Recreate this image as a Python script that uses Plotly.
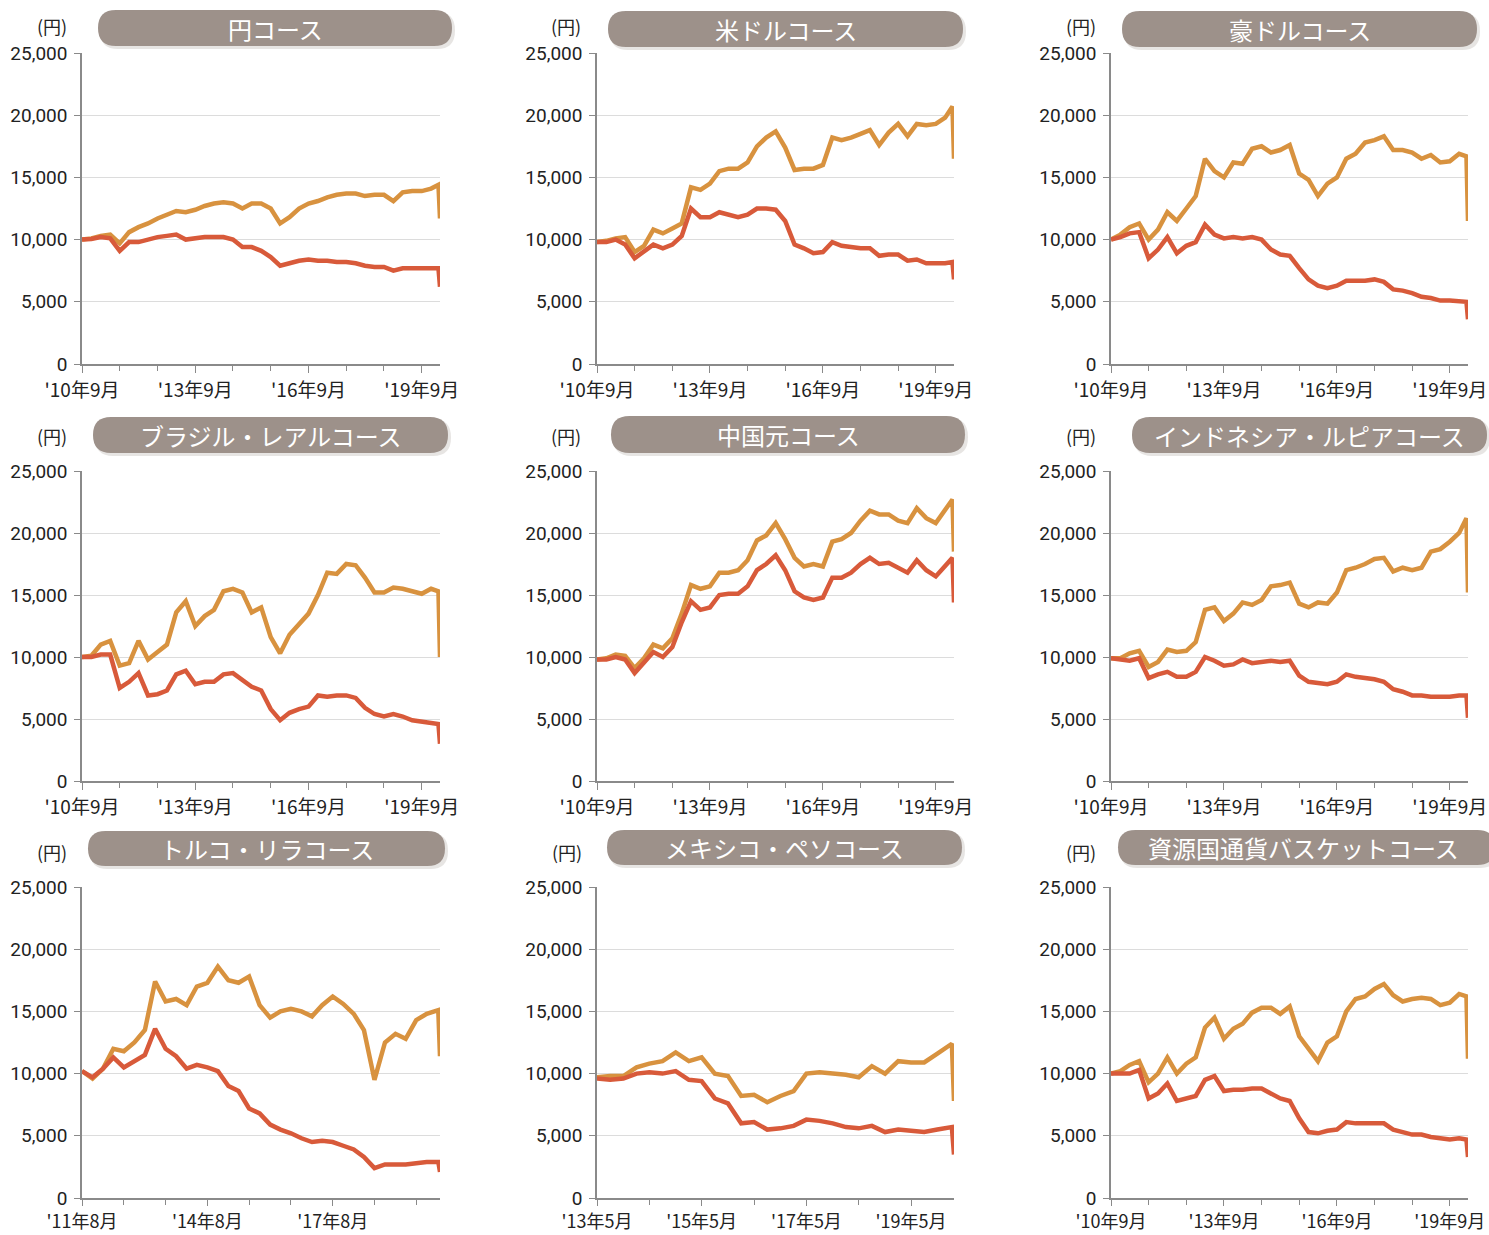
import pandas as pd
import plotly.graph_objects as go

W, H = 1489, 1235

# ---------------- data ----------------
std_dates = [d.strftime("%Y-%m-%d") for d in pd.date_range("2010-09-01", periods=38, freq="3MS")] + ["2020-02-10", "2020-02-25"]
try_dates = [d.strftime("%Y-%m-%d") for d in pd.date_range("2011-08-01", periods=34, freq="3MS")] + ["2020-02-10", "2020-02-25"]
mxn_dates = [d.strftime("%Y-%m-%d") for d in pd.date_range("2013-05-01", periods=27, freq="3MS")] + ["2020-02-10", "2020-02-25"]

titles = ["円コース", "米ドルコース", "豪ドルコース",
          "ブラジル・レアルコース", "中国元コース", "インドネシア・ルピアコース",
          "トルコ・リラコース", "メキシコ・ペソコース", "資源国通貨バスケットコース"]

std_ticks = ["2010-09-01", "2013-09-01", "2016-09-01", "2019-09-01"]
std_ticktext = ["'10年9月", "'13年9月", "'16年9月", "'19年9月"]
try_ticks = ["2011-08-01", "2014-08-01", "2017-08-01"]
try_ticktext = ["'11年8月", "'14年8月", "'17年8月"]
mxn_ticks = ["2013-05-01", "2015-05-01", "2017-05-01", "2019-05-01"]
mxn_ticktext = ["'13年5月", "'15年5月", "'17年5月", "'19年5月"]

jpy_reinv = [10000, 10100, 10300, 10400, 9700, 10600, 11000, 11300, 11700, 12000,
             12300, 12200, 12400, 12700, 12900, 13000, 12900, 12500, 12900, 12900,
             12500, 11300, 11800, 12500, 12900, 13100, 13400, 13600, 13700, 13700,
             13500, 13600, 13600, 13100, 13800, 13900, 13900, 14100, 14400, 11700]
jpy_nav = [10000, 10050, 10200, 10100, 9100, 9800, 9800, 10000, 10200, 10300,
           10400, 10000, 10100, 10200, 10200, 10200, 10000, 9400, 9400, 9100,
           8600, 7900, 8100, 8300, 8400, 8300, 8300, 8200, 8200, 8100,
           7900, 7800, 7800, 7500, 7700, 7700, 7700, 7700, 7700, 6200]

usd_reinv = [9800, 9900, 10100, 10200, 9000, 9500, 10800, 10500, 10900, 11300,
             14200, 14000, 14500, 15500, 15700, 15700, 16200, 17500, 18200, 18700,
             17400, 15600, 15700, 15700, 16000, 18200, 18000, 18200, 18500, 18800,
             17600, 18600, 19300, 18300, 19300, 19200, 19300, 19800, 20700, 16500]
usd_nav = [9800, 9800, 10000, 9600, 8500, 9000, 9600, 9300, 9600, 10300,
           12500, 11800, 11800, 12200, 12000, 11800, 12000, 12500, 12500, 12400,
           11500, 9600, 9300, 8900, 9000, 9800, 9500, 9400, 9300, 9300,
           8700, 8800, 8800, 8300, 8400, 8100, 8100, 8100, 8200, 6800]

aud_reinv = [10000, 10400, 11000, 11300, 10000, 10800, 12200, 11500, 12500, 13500,
             16500, 15500, 15000, 16200, 16100, 17300, 17500, 17000, 17200, 17600,
             15300, 14800, 13500, 14500, 15000, 16500, 16900, 17800, 18000, 18300,
             17200, 17200, 17000, 16500, 16800, 16200, 16300, 16900, 16700, 11500]
aud_nav = [10000, 10200, 10500, 10600, 8500, 9200, 10200, 8900, 9500, 9800,
           11200, 10400, 10100, 10200, 10100, 10200, 10000, 9200, 8800, 8700,
           7700, 6800, 6300, 6100, 6300, 6700, 6700, 6700, 6800, 6600,
           6000, 5900, 5700, 5400, 5300, 5100, 5100, 5000, 5000, 3600]

brl_reinv = [10000, 10100, 11000, 11300, 9300, 9500, 11300, 9800, 10400, 11000,
             13600, 14500, 12500, 13300, 13800, 15300, 15500, 15200, 13600, 14000,
             11600, 10300, 11800, 12700, 13500, 15000, 16800, 16700, 17500, 17400,
             16400, 15200, 15200, 15600, 15500, 15300, 15100, 15500, 15300, 10000]
brl_nav = [10000, 10000, 10200, 10200, 7500, 8000, 8700, 6900, 7000, 7300,
           8600, 8900, 7800, 8000, 8000, 8600, 8700, 8100, 7600, 7300,
           5800, 4900, 5500, 5800, 6000, 6900, 6800, 6900, 6900, 6700,
           5900, 5400, 5200, 5400, 5200, 4900, 4800, 4700, 4600, 3000]

cny_reinv = [9800, 9900, 10200, 10100, 9100, 9900, 11000, 10700, 11500, 13500,
             15800, 15500, 15700, 16800, 16800, 17000, 17800, 19400, 19800, 20800,
             19500, 18000, 17300, 17500, 17300, 19300, 19500, 20000, 21000, 21800,
             21500, 21500, 21000, 20800, 22000, 21200, 20800, 21800, 22700, 18500]
cny_nav = [9800, 9800, 10000, 9800, 8700, 9500, 10400, 10000, 10800, 12800,
           14500, 13800, 14000, 15000, 15100, 15100, 15700, 17000, 17500, 18200,
           17000, 15300, 14800, 14600, 14800, 16400, 16400, 16800, 17500, 18000,
           17500, 17600, 17200, 16800, 17800, 17000, 16500, 17300, 18000, 14400]

idr_reinv = [9900, 9900, 10300, 10500, 9200, 9600, 10600, 10400, 10500, 11200,
             13800, 14000, 12900, 13500, 14400, 14200, 14600, 15700, 15800, 16000,
             14300, 14000, 14400, 14300, 15200, 17000, 17200, 17500, 17900, 18000,
             16900, 17200, 17000, 17200, 18500, 18700, 19300, 20000, 21200, 15200]
idr_nav = [9900, 9800, 9700, 9900, 8300, 8600, 8800, 8400, 8400, 8800,
           10000, 9700, 9300, 9400, 9800, 9500, 9600, 9700, 9600, 9700,
           8500, 8000, 7900, 7800, 8000, 8600, 8400, 8300, 8200, 8000,
           7400, 7200, 6900, 6900, 6800, 6800, 6800, 6900, 6900, 5100]

try_reinv = [10200, 9600, 10400, 12000, 11800, 12500, 13500, 17400, 15800, 16000,
             15500, 17000, 17300, 18600, 17500, 17300, 17800, 15500, 14500, 15000,
             15200, 15000, 14600, 15500, 16200, 15600, 14800, 13500, 9500, 12500,
             13200, 12800, 14300, 14800, 15100, 11400]
try_nav = [10200, 9700, 10400, 11300, 10500, 11000, 11500, 13600, 12000, 11400,
           10400, 10700, 10500, 10200, 9000, 8600, 7200, 6800, 5900, 5500,
           5200, 4800, 4500, 4600, 4500, 4200, 3900, 3300, 2400, 2700,
           2700, 2700, 2800, 2900, 2900, 2100]

mxn_reinv = [9700, 9800, 9800, 10500, 10800, 11000, 11700, 11000, 11300, 10000,
             9800, 8200, 8300, 7700, 8200, 8600, 10000, 10100, 10000, 9900,
             9700, 10600, 10000, 11000, 10900, 10900, 11600, 12400, 7800]
mxn_nav = [9600, 9500, 9600, 10000, 10100, 10000, 10200, 9500, 9400, 8000,
           7600, 6000, 6100, 5500, 5600, 5800, 6300, 6200, 6000, 5700,
           5600, 5800, 5300, 5500, 5400, 5300, 5500, 5700, 3500]

bsk_reinv = [10000, 10200, 10700, 11000, 9300, 10000, 11300, 10000, 10800, 11300,
             13700, 14500, 12800, 13600, 14000, 14900, 15300, 15300, 14800, 15400,
             13000, 12000, 11000, 12500, 13000, 15000, 16000, 16200, 16800, 17200,
             16300, 15800, 16000, 16100, 16000, 15500, 15700, 16400, 16200, 11200]
bsk_nav = [10000, 10000, 10000, 10300, 8000, 8400, 9200, 7800, 8000, 8200,
           9500, 9800, 8600, 8700, 8700, 8800, 8800, 8400, 8000, 7800,
           6400, 5300, 5200, 5400, 5500, 6100, 6000, 6000, 6000, 6000,
           5500, 5300, 5100, 5100, 4900, 4800, 4700, 4800, 4700, 3300]

y_ticks = [0, 5000, 10000, 15000, 20000, 25000]

# ---------------- layout / styling ----------------
ORANGE = "#d8923f"
RED = "#d85a3a"
PILL = "#9d918a"
FONT = "Noto Sans CJK JP"
NUMFONT = "Roboto"

panels = [
    (std_dates, jpy_reinv, jpy_nav, std_ticks, std_ticktext, "2010-09-01", (82, 440, 53, 364), (98, 452, 10, 46), (52, 26)),
    (std_dates, usd_reinv, usd_nav, std_ticks, std_ticktext, "2010-09-01", (597, 954, 53, 364), (608, 963, 11, 47), (566, 26)),
    (std_dates, aud_reinv, aud_nav, std_ticks, std_ticktext, "2010-09-01", (1111, 1468, 53, 364), (1122, 1477, 11, 47), (1081, 26)),
    (std_dates, brl_reinv, brl_nav, std_ticks, std_ticktext, "2010-09-01", (82, 440, 471, 781), (93, 448, 417, 453), (52, 436)),
    (std_dates, cny_reinv, cny_nav, std_ticks, std_ticktext, "2010-09-01", (597, 954, 471, 781), (611, 965, 416, 453), (566, 436)),
    (std_dates, idr_reinv, idr_nav, std_ticks, std_ticktext, "2010-09-01", (1111, 1468, 471, 781), (1132, 1487, 417, 453), (1081, 436)),
    (try_dates, try_reinv, try_nav, try_ticks, try_ticktext, "2011-08-01", (82, 440, 887, 1198), (88, 445, 831, 866), (52, 852)),
    (mxn_dates, mxn_reinv, mxn_nav, mxn_ticks, mxn_ticktext, "2013-05-01", (597, 954, 887, 1198), (607, 962, 830, 865), (567, 852)),
    (std_dates, bsk_reinv, bsk_nav, std_ticks, std_ticktext, "2010-09-01", (1111, 1468, 887, 1198), (1118, 1495, 830, 865), (1081, 852)),
]


def fx(px):
    return px / W


def fy(py):
    return 1 - py / H


def pill_path(x0, x1, y0, y1, r):
    pts = [
        ("M", (x0 + r, y0)), ("L", (x1 - r, y0)), ("Q", (x1, y0), (x1, y0 + r)),
        ("L", (x1, y1 - r)), ("Q", (x1, y1), (x1 - r, y1)), ("L", (x0 + r, y1)),
        ("Q", (x0, y1), (x0, y1 - r)), ("L", (x0, y0 + r)), ("Q", (x0, y0), (x0 + r, y0)),
    ]
    s = ""
    for p in pts:
        cmd = p[0]
        coords = " ".join(f"{fx(a):.5f},{fy(b):.5f}" for a, b in p[1:])
        s += f"{cmd} {coords} "
    return s + "Z"


fig = go.Figure()
shapes = []
annotations = []

for i, (dates, reinv, nav, tv, tt, start, box, pill, yen) in enumerate(panels):
    n = i + 1
    xa = "x" if n == 1 else f"x{n}"
    ya = "y" if n == 1 else f"y{n}"
    fig.add_trace(go.Scatter(x=dates, y=reinv, mode="lines", line=dict(color=ORANGE, width=4.5),
                             xaxis=xa, yaxis=ya, showlegend=False, hoverinfo="skip"))
    fig.add_trace(go.Scatter(x=dates, y=nav, mode="lines", line=dict(color=RED, width=4.5),
                             xaxis=xa, yaxis=ya, showlegend=False, hoverinfo="skip"))
    x0, x1, y0, y1 = box
    bottom_row = n >= 7
    xkey = "xaxis" if n == 1 else f"xaxis{n}"
    ykey = "yaxis" if n == 1 else f"yaxis{n}"
    fig.layout[xkey] = dict(
        domain=[fx(x0), fx(x1)], anchor=ya, type="date", automargin=False,
        range=[start, dates[-1]],
        tickmode="array", tickvals=tv, ticktext=tt,
        ticks="outside", ticklen=6 if bottom_row else 7, tickwidth=1.3, tickcolor="#8a8a8a",
        minor=dict(ticks="outside", ticklen=5, tickwidth=1.3, tickcolor="#8a8a8a",
                   tick0=start, dtick="M12", showgrid=False),
        showline=True, linecolor="#8a8a8a", linewidth=1.5,
        showgrid=False, zeroline=False,
        tickfont=dict(family=FONT, size=18 if bottom_row else 19, color="#222"),
        ticklabelstandoff=1,
    )
    fig.layout[ykey] = dict(
        domain=[fy(y1), fy(y0)], anchor=xa, range=[0, 25000], automargin=False,
        tickmode="array", tickvals=y_ticks, ticktext=[f"{v:,}" for v in y_ticks],
        ticks="outside", ticklen=6, tickwidth=1.3, tickcolor="#8a8a8a",
        showline=True, linecolor="#8a8a8a", linewidth=1.5,
        showgrid=True, gridcolor="#dcdcdc", gridwidth=1.2, zeroline=False,
        tickfont=dict(family=NUMFONT, size=19, color="#222"),
        ticklabelstandoff=3,
    )
    px0, px1, py0, py1 = pill
    r = (py1 - py0) / 2
    shapes.append(dict(type="path", xref="paper", yref="paper",
                       path=pill_path(px0 + 2, px1 + 3, py0 + 2, py1 + 3, r),
                       fillcolor="rgba(120,110,100,0.18)", line=dict(width=0), layer="below"))
    shapes.append(dict(type="path", xref="paper", yref="paper",
                       path=pill_path(px0, px1, py0, py1, r),
                       fillcolor=PILL, line=dict(width=0), layer="below"))
    cx = (px0 + min(px1, W)) / 2 if n == 9 else (px0 + px1) / 2
    annotations.append(dict(xref="paper", yref="paper", x=fx(cx),
                            y=fy((py0 + py1) / 2), text=titles[i], showarrow=False,
                            xanchor="center", yanchor="middle",
                            font=dict(family=FONT, size=24, color="white")))
    annotations.append(dict(xref="paper", yref="paper", x=fx(yen[0]), y=fy(yen[1]), text="(円)",
                            showarrow=False, xanchor="center", yanchor="middle",
                            font=dict(family=FONT, size=18, color="#222")))

fig.update_layout(
    width=W, height=H, margin=dict(l=0, r=0, t=0, b=0, autoexpand=False),
    paper_bgcolor="white", plot_bgcolor="white",
    shapes=shapes, annotations=annotations, showlegend=False,
)

fig.write_html("out.html", config={"displayModeBar": False},
               post_script="document.body.style.margin='0';document.body.style.overflow='hidden';")
